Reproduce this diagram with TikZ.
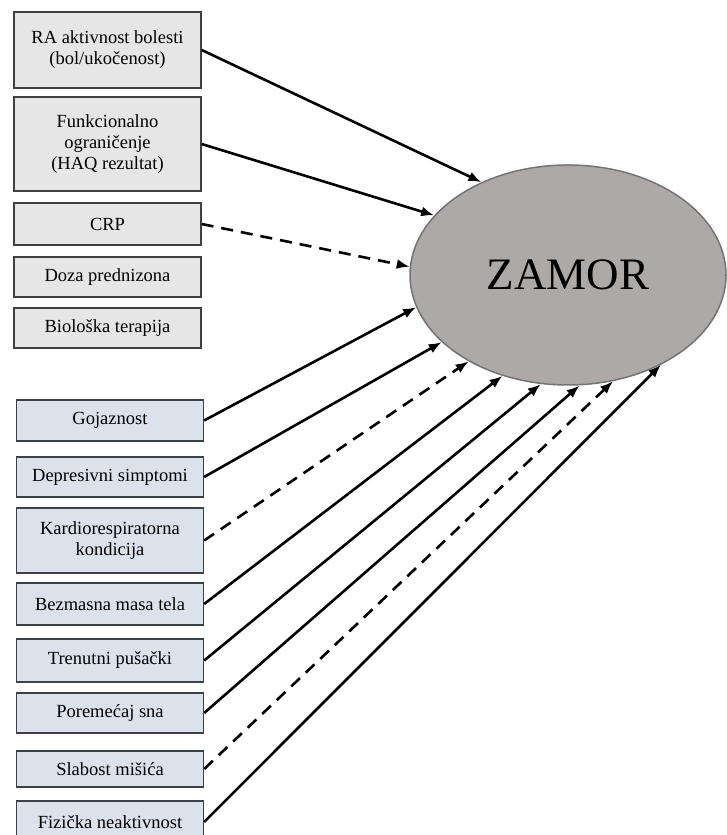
\documentclass[tikz,border=0pt]{standalone}
\usepackage{fontspec}
\setmainfont{Liberation Serif}
\usetikzlibrary{arrows.meta,shapes.geometric}

\definecolor{boxgray}{HTML}{E6E6E6}
\definecolor{boxblue}{HTML}{DCE2EC}
\definecolor{boxline}{HTML}{3C4048}
\definecolor{ovalgray}{HTML}{ADA9A9}

\begin{document}
\begin{tikzpicture}[x=1pt,y=1pt,
  clin/.style={draw=black!75,line width=1.3pt,fill=boxgray,minimum width=187pt,
    inner sep=0pt,align=center,font=\fontsize{18.5}{21}\selectfont},
  life/.style={clin,fill=boxblue,draw=boxline},
  link/.style={line width=2.6pt,-{Latex[length=13pt,width=10pt]}},
  weak/.style={link,dash pattern=on 12pt off 8pt}]
  \useasboundingbox (0,0) rectangle (727,835);

  % klinicki faktori
  \node[clin,minimum height=76pt] (ra) at (107.5,785) {RA aktivnost bolesti\\(bol/ukočenost)};
  \node[clin,minimum height=94pt] (funk) at (107.5,691) {Funkcionalno\\ograničenje\\(HAQ rezultat)};
  \node[clin,minimum height=42pt] (crp) at (107.5,611) {CRP};
  \node[clin,minimum height=40pt] (doza) at (107.5,558) {Doza prednizona};
  \node[clin,minimum height=40pt] (bio) at (107.5,507) {Biološka terapija};

  % ostali faktori
  \node[life,minimum height=41pt] (goj) at (110,414.5) {Gojaznost};
  \node[life,minimum height=40pt] (dep) at (110,358) {Depresivni simptomi};
  \node[life,minimum height=65pt] (kard) at (110,294.5) {Kardiorespiratorna\\kondicija};
  \node[life,minimum height=42pt] (bez) at (110,231) {Bezmasna masa tela};
  \node[life,minimum height=43pt] (tren) at (110,174.5) {Trenutni pušački};
  \node[life,minimum height=40pt] (por) at (110,122) {Poremećaj sna};
  \node[life,minimum height=36pt] (slab) at (110,66) {Slabost mišića};
  \node[life,minimum height=42pt] (fiz) at (110,13) {Fizička neaktivnost};

  \node[ellipse,draw=black!55,line width=1.5pt,fill=ovalgray,minimum width=316pt,
    minimum height=220pt,inner sep=0pt,font=\fontsize{45}{50}\selectfont] (zamor) at (568,560) {ZAMOR};

  \foreach \src/\ang in {ra/133.4,funk/156.7,goj/192.9,dep/208,bez/237.7,tren/256.9,por/276.2,fiz/316.2}
    \draw[link] (\src.east) -- (zamor.\ang);
  \foreach \src/\ang in {crp/177,kard/221.9,slab/293.7}
    \draw[weak] (\src.east) -- (zamor.\ang);
\end{tikzpicture}
\end{document}
